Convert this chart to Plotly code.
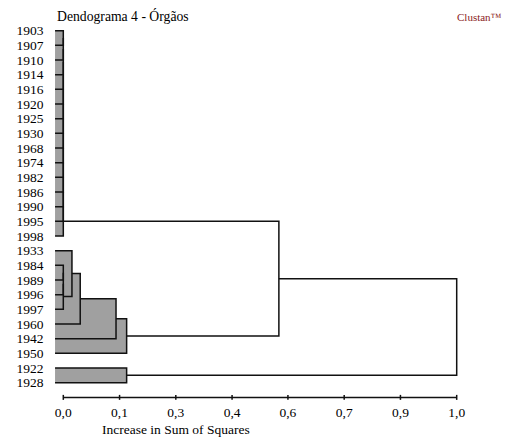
import plotly.graph_objects as go

# ---------------- data ----------------
leaves = ["1903", "1907", "1910", "1914", "1916", "1920", "1925", "1930",
          "1968", "1974", "1982", "1986", "1990", "1995", "1998",
          "1933", "1984", "1989", "1996", "1997", "1960", "1942", "1950",
          "1922", "1928"]

# merges: child a, child b (leaf label or index of an earlier merge), height
merge_a = ["1903", 0, 1, 2, 3, 4, 5, 6, 7, 8, 9, 10, 11, 12,
           "1984", 14, 15, "1933", 17, 18, 19,
           "1922",
           13, 22]
merge_b = ["1907", "1910", "1914", "1916", "1920", "1925", "1930", "1968",
           "1974", "1982", "1986", "1990", "1995", "1998",
           "1989", "1996", "1997", 16, "1960", "1942", "1950",
           "1928",
           20, 21]
merge_h = [0.0, 0.0, 0.0, 0.0, 0.0, 0.0, 0.0, 0.0, 0.0, 0.0, 0.0, 0.0, 0.0, 0.0,
           0.0, 0.0, 0.0, 0.022, 0.043, 0.134, 0.161,
           0.161,
           0.548, 1.0]

shade_cut = 0.3   # clusters merged below this level are shaded

tick_values = [0.0, 0.143, 0.286, 0.429, 0.571, 0.714, 0.857, 1.0]
tick_labels = ["0,0", "0,1", "0,3", "0,4", "0,6", "0,7", "0,9", "1,0"]

title_text = "Dendograma 4 - Órgãos"
brand_text = "Clustan™"
axis_title = "Increase in Sum of Squares"

# ---------------- layout constants ----------------
OFF = 8                      # page body margin of the html page
W, H = 513 - OFF, 443 - OFF
LEAF_STUB = -0.021
FONT = "Liberation Serif, Times New Roman, DejaVu Serif, serif"
FILL = "#a0a0a0"
LINE = "#111111"

# ---------------- geometry ----------------
leaf_pos = {lab: i for i, lab in enumerate(leaves)}
node_y, node_h = [], []


def child(c):
    if isinstance(c, str):
        return leaf_pos[c], LEAF_STUB
    return node_y[c], node_h[c]


fx, fy = [], []
lx, ly = [], []
tx, ty = [], []
for a, b, h in zip(merge_a, merge_b, merge_h):
    ya, ha = child(a)
    yb, hb = child(b)
    if h < shade_cut:
        fx += [LEAF_STUB, h, h, LEAF_STUB, LEAF_STUB, None]
        fy += [ya, ya, yb, yb, ya, None]
        lx += [ha, h, h, hb, None]
        ly += [ya, ya, yb, yb, None]
    else:
        tx += [ha, h, h, hb, None]
        ty += [ya, ya, yb, yb, None]
    node_y.append((ya + yb) / 2)
    node_h.append(h)

axis_row = len(leaves)
ax_x = [tick_values[0], tick_values[-1], None]
ax_y = [axis_row, axis_row, None]
for v in tick_values:
    ax_x += [v, v, None]
    ax_y += [axis_row - 0.17, axis_row + 0.17, None]

fig = go.Figure()
fig.add_trace(go.Scatter(x=fx, y=fy, mode="lines", fill="toself",
                         fillcolor=FILL, line=dict(width=0, color=FILL),
                         hoverinfo="skip"))
fig.add_trace(go.Scatter(x=lx, y=ly, mode="lines",
                         line=dict(width=1.5, color=LINE), hoverinfo="skip"))
fig.add_trace(go.Scatter(x=tx, y=ty, mode="lines",
                         line=dict(width=1.5, color=LINE), hoverinfo="skip"))
fig.add_trace(go.Scatter(x=ax_x, y=ax_y, mode="lines",
                         line=dict(width=1.5, color=LINE), hoverinfo="skip"))

# pixel mapping (page px): value 0 -> 63.3px, 1 -> 456.7px ; leaf i -> 30.7 + 14.667 i
x0px, x1px = 63.3 - OFF, 456.7 - OFF
sx = x1px - x0px
y0px, dy = 30.7 - OFF, 14.667
xr = [-x0px / sx, (W - x0px) / sx]
yr = [(H - y0px) / dy, -y0px / dy]


def px_x(p):
    return (p - OFF) / W


def px_y(p):
    return 1 - (p - OFF) / H


fig.update_layout(
    width=W, height=H,
    margin=dict(l=0, r=0, t=0, b=0),
    paper_bgcolor="white", plot_bgcolor="white",
    showlegend=False,
    font=dict(family=FONT, size=13, color="#000000"),
    xaxis=dict(range=xr, domain=[0, 1], anchor="free",
               position=1 - (y0px + axis_row * dy) / H,
               showgrid=False, zeroline=False, showline=False,
               ticks="", tickvals=tick_values, ticktext=tick_labels,
               tickfont=dict(family=FONT, size=13.5, color="#000000"),
               ticklabelstandoff=5, automargin=False),
    yaxis=dict(range=yr, domain=[0, 1], anchor="free", position=px_x(43.5),
               showgrid=False, zeroline=False, showline=False,
               ticks="", tickvals=list(range(len(leaves))), ticktext=leaves,
               tickfont=dict(family=FONT, size=13.5, color="#000000"),
               automargin=False),
    annotations=[
        dict(text=title_text, xref="paper", yref="paper",
             x=px_x(55), y=px_y(15.5), xanchor="left", yanchor="middle",
             showarrow=False, font=dict(family=FONT, size=13.7, color="#000000")),
        dict(text=brand_text, xref="paper", yref="paper",
             x=px_x(455), y=px_y(17), xanchor="left", yanchor="middle",
             showarrow=False, font=dict(family=FONT, size=11, color="#8b2323")),
        dict(text=axis_title, xref="paper", yref="paper",
             x=px_x(100), y=px_y(429.5), xanchor="left", yanchor="middle",
             showarrow=False, font=dict(family=FONT, size=13.5, color="#000000")),
    ],
)

fig.write_html("out.html")
